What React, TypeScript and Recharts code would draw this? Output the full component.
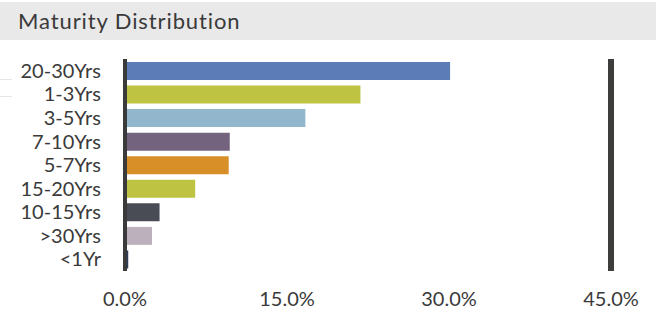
import React from 'react';
import { BarChart, Bar, XAxis, YAxis, Cell, ReferenceLine } from 'recharts';

// maturity buckets, sorted as in the factsheet
const buckets = ['20-30Yrs', '1-3Yrs', '3-5Yrs', '7-10Yrs', '5-7Yrs', '15-20Yrs', '10-15Yrs', '>30Yrs', '<1Yr'];
const weights = [30.1, 21.8, 16.7, 9.7, 9.6, 6.5, 3.2, 2.5, 0.3];
const xTicks = [0, 15, 30, 45];

const barColors = ['#5b7cb6', '#bec442', '#92b7cc', '#73637f', '#d98f27', '#bec442', '#494c55', '#bbb0bb', '#2c3d5e'];

const FONT = 'Lato, "Open Sans", sans-serif';
const TEXT = '#3a3a3a';

export default function App() {
  const chartData = buckets.map((name, i) => ({ name, value: weights[i] }));

  return (
    <div style={{ position: 'absolute', left: 0, top: 0, width: 664, height: 311, background: '#fff', fontFamily: FONT }}>
      {/* header band */}
      <div
        style={{
          position: 'absolute',
          left: 0,
          top: 2,
          width: 656,
          height: 38,
          background: '#e9e9e9',
        }}
      />
      <div
        style={{
          position: 'absolute',
          left: 18,
          top: 9,
          fontSize: 22,
          lineHeight: '24px',
          letterSpacing: 0.9,
          color: TEXT,
          whiteSpace: 'nowrap',
        }}
      >
        Maturity Distribution
      </div>

      {/* faint leftover rules at the left edge */}
      <div style={{ position: 'absolute', left: 0, top: 79, width: 12, height: 1, background: '#e6e6e6' }} />
      <div style={{ position: 'absolute', left: 0, top: 96, width: 12, height: 1, background: '#e6e6e6' }} />

      <div style={{ position: 'absolute', left: 0, top: 0 }}>
        <BarChart
          width={664}
          height={311}
          data={chartData}
          layout="vertical"
          margin={{ top: 59, right: 53, bottom: 0, left: 0 }}
          barCategoryGap={0}
        >
          <XAxis
            type="number"
            domain={[0, 45]}
            ticks={xTicks}
            height={40}
            axisLine={false}
            tickLine={false}
            tickMargin={15}
            tickFormatter={(v: number) => v.toFixed(1) + '%'}
            tick={{ fontSize: 20, fill: TEXT, fontFamily: FONT }}
          />
          <YAxis
            type="category"
            dataKey="name"
            width={125}
            axisLine={false}
            tickLine={false}
            tickMargin={18}
            interval={0}
            tick={{ fontSize: 20, fill: TEXT, fontFamily: FONT }}
          />
          <Bar dataKey="value" barSize={18} isAnimationActive={false}>
            {chartData.map((d, i) => (
              <Cell key={d.name} fill={barColors[i]} />
            ))}
          </Bar>
          <ReferenceLine x={0} stroke="#3a3a3a" strokeWidth={4} />
          <ReferenceLine x={45} stroke="#3d3d3b" strokeWidth={6} />
        </BarChart>
      </div>
    </div>
  );
}
